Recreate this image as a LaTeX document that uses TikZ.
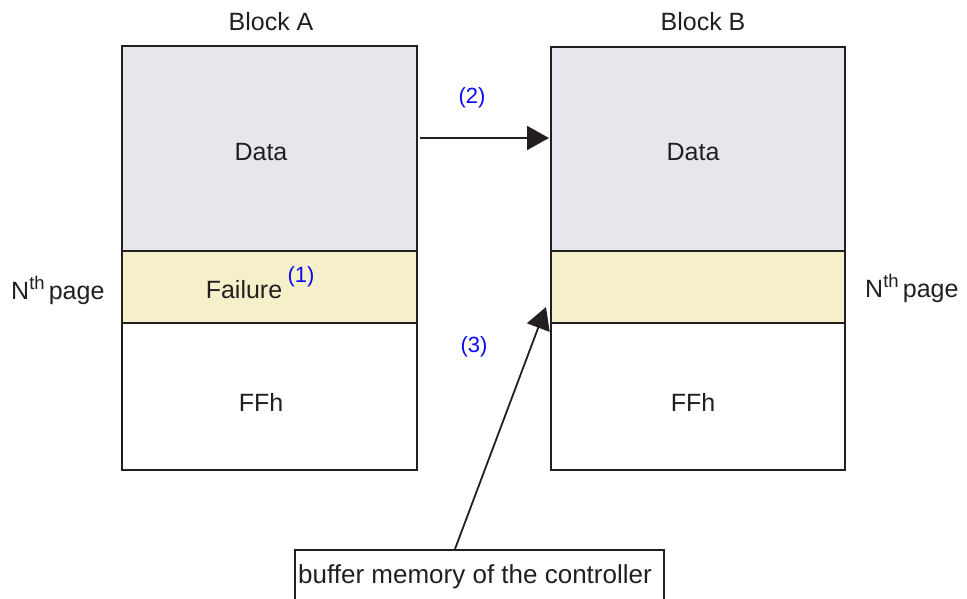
\documentclass[tikz,border=0pt]{standalone}
\usepackage{fontspec}
\setmainfont{Liberation Sans}
\usetikzlibrary{arrows.meta}
\definecolor{datagray}{RGB}{230,231,236}
\definecolor{failyellow}{RGB}{246,240,202}
\definecolor{lblblue}{RGB}{10,10,240}
\definecolor{ink}{RGB}{35,31,32}
\newcommand{\thsup}{\raisebox{10pt}{\fontsize{18.5}{20}\selectfont th}}
\begin{document}
\begin{tikzpicture}[x=1pt,y=-1pt,
  cell/.style={draw=ink,line width=1.8pt},
  txt/.style={font=\fontsize{25}{29}\selectfont,text=ink,inner sep=0pt},
  num/.style={font=\fontsize{22}{26}\selectfont,text=lblblue,inner sep=0pt},
  conn/.style={draw=ink,line width=1.8pt,-{Triangle[length=22pt,width=24pt]}}]
\useasboundingbox (0,0) rectangle (967,599);
% Block A
\fill[datagray] (122,46) rectangle (417,251);
\fill[failyellow] (122,251) rectangle (417,323);
\fill[white] (122,323) rectangle (417,470);
\draw[cell] (122,46) rectangle (417,470);
\draw[cell] (122,251) -- (417,251);
\draw[cell] (122,323) -- (417,323);
% Block B
\fill[datagray] (551,47) rectangle (845,251);
\fill[failyellow] (551,251) rectangle (845,323);
\fill[white] (551,323) rectangle (845,470);
\draw[cell] (551,47) rectangle (845,470);
\draw[cell] (551,251) -- (845,251);
\draw[cell] (551,323) -- (845,323);
% labels
\node[txt] (ta) at (271,22) {Block A};
\node[txt] (tb) at (703,22) {Block B};
\node[txt] (da) at (261,152) {Data};
\node[txt] (db) at (693,152) {Data};
\node[txt] (fa) at (261,402) {FFh};
\node[txt] (fb) at (693,402) {FFh};
\node[txt] (fail) at (244,290) {Failure};
\node[num] (n1) at (301,277) {(1)};
\node[txt,anchor=west] (pl) at (11,290) {N\thsup\,page};
\node[txt,anchor=west] (pr) at (865,288) {N\thsup\,page};
\node[num] (n2) at (472,98) {(2)};
\node[num] (n3) at (474,347) {(3)};
% anchors for connectors
\coordinate (a2s) at (420,138);
\coordinate (a2e) at (549,138);
\coordinate (a3e) at (546,307);
% buffer box
\begin{scope}
\clip (0,0) rectangle (967,599);
\node[draw=ink,line width=1.8pt,minimum width=369pt,minimum height=70pt,anchor=north west] (buf) at (294,549) {};
\end{scope}
\node[txt,font=\fontsize{26}{30}\selectfont] (buft) at (475,577) {buffer memory of the controller};
\coordinate (a3s) at (455,549);
\draw[conn] (a2s) -- (a2e);
\draw[conn] (a3s) -- (a3e);
\end{tikzpicture}
\end{document}
